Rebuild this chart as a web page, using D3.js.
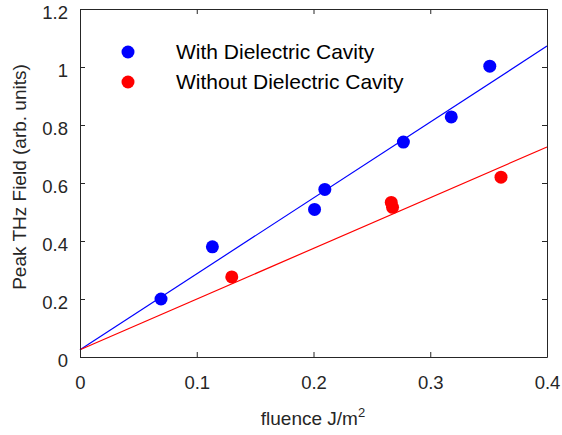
<!DOCTYPE html>
<html>
<head>
<meta charset="utf-8">
<script src="https://cdn.jsdelivr.net/npm/d3@7"></script>
<style>
  body { margin: 0; background: #fff; }
  text { font-family: "Liberation Sans", Arial, sans-serif; fill: #262626; }
</style>
</head>
<body>
<div id="chart"></div>
<script>
// measured points
const withFluence = [0.0694, 0.1134, 0.2009, 0.2097, 0.277, 0.318, 0.351];
const withField = [0.200, 0.380, 0.509, 0.578, 0.741, 0.828, 1.003];
const withoutFluence = [0.130, 0.2666, 0.2677, 0.3606];
const withoutField = [0.276, 0.533, 0.516, 0.620];
// fitted lines, endpoints at x = 0 and x = 0.4
const fitX = [0, 0.4];
const withFit = [0.025, 1.072];
const withoutFit = [0.025, 0.724];
const xTicks = [0, 0.1, 0.2, 0.3, 0.4];
const yTicks = [0, 0.2, 0.4, 0.6, 0.8, 1, 1.2];
const seriesNames = ["With Dielectric Cavity", "Without Dielectric Cavity"];

const W = 562, H = 435;
const margin = { top: 9, right: 15, bottom: 78, left: 80 };
const width = W - margin.left - margin.right;
const height = H - margin.top - margin.bottom;

const svg = d3.select("#chart").append("svg")
  .attr("width", W)
  .attr("height", H);

const g = svg.append("g")
  .attr("transform", `translate(${margin.left},${margin.top})`);

const x = d3.scaleLinear().domain([0, 0.4]).range([0, width]);
const y = d3.scaleLinear().domain([0, 1.2]).range([height, 0]);
const fmt = d => d3.format("")(+d.toFixed(1));

// fit lines
const line = d3.line().x(d => x(d[0])).y(d => y(d[1]));
g.append("path")
  .datum(fitX.map((v, i) => [v, withFit[i]]))
  .attr("fill", "none").attr("stroke", "#0000ff").attr("stroke-width", 1.2)
  .attr("d", line);
g.append("path")
  .datum(fitX.map((v, i) => [v, withoutFit[i]]))
  .attr("fill", "none").attr("stroke", "#ff0000").attr("stroke-width", 1.2)
  .attr("d", line);

// points
g.append("g").selectAll("circle")
  .data(withFluence.map((v, i) => [v, withField[i]]))
  .join("circle")
  .attr("cx", d => x(d[0])).attr("cy", d => y(d[1]))
  .attr("r", 6.5).attr("fill", "#0000ff");
g.append("g").selectAll("circle")
  .data(withoutFluence.map((v, i) => [v, withoutField[i]]))
  .join("circle")
  .attr("cx", d => x(d[0])).attr("cy", d => y(d[1]))
  .attr("r", 6.5).attr("fill", "#ff0000");

// axes (ticks inside, box all round)
const tickLen = 5;
const styleAxis = sel => {
  sel.select(".domain").attr("stroke", "#262626");
  sel.selectAll(".tick line").attr("stroke", "#262626");
  sel.selectAll("text").style("font-size", "18.5px").attr("fill", "#262626");
};
g.append("g")
  .attr("transform", `translate(0,${height})`)
  .call(d3.axisBottom(x).tickValues(xTicks).tickFormat(fmt).tickSizeInner(-tickLen).tickSizeOuter(0).tickPadding(19))
  .call(styleAxis);
g.append("g")
  .call(d3.axisTop(x).tickValues(xTicks).tickFormat("").tickSizeInner(-tickLen).tickSizeOuter(0))
  .call(styleAxis);
g.append("g")
  .call(d3.axisLeft(y).tickValues(yTicks).tickFormat(fmt).tickSizeInner(-tickLen).tickSizeOuter(0).tickPadding(12))
  .call(styleAxis)
  .call(a => a.selectAll(".tick text").attr("dy", "0.5em"));
g.append("g")
  .attr("transform", `translate(${width},0)`)
  .call(d3.axisRight(y).tickValues(yTicks).tickFormat("").tickSizeInner(-tickLen).tickSizeOuter(0))
  .call(styleAxis);

// axis labels
const xl = svg.append("text")
  .attr("x", 313).attr("y", 425)
  .attr("text-anchor", "middle")
  .style("font-size", "19px");
xl.append("tspan").text("fluence J/m");
xl.append("tspan").attr("dy", -8).style("font-size", "13px").text("2");

svg.append("text")
  .attr("transform", `translate(26,177) rotate(-90)`)
  .attr("text-anchor", "middle")
  .style("font-size", "19px")
  .text("Peak THz Field (arb. units)");

// legend
const legend = svg.append("g");
const colors = ["#0000ff", "#ff0000"];
seriesNames.forEach((name, i) => {
  const ly = 52 + i * 30;
  legend.append("circle").attr("cx", 128).attr("cy", ly).attr("r", 6.5).attr("fill", colors[i]);
  legend.append("text").attr("x", 176).attr("y", ly + 7).style("font-size", "21px").style("fill", "#000").text(name);
});
</script>
</body>
</html>
